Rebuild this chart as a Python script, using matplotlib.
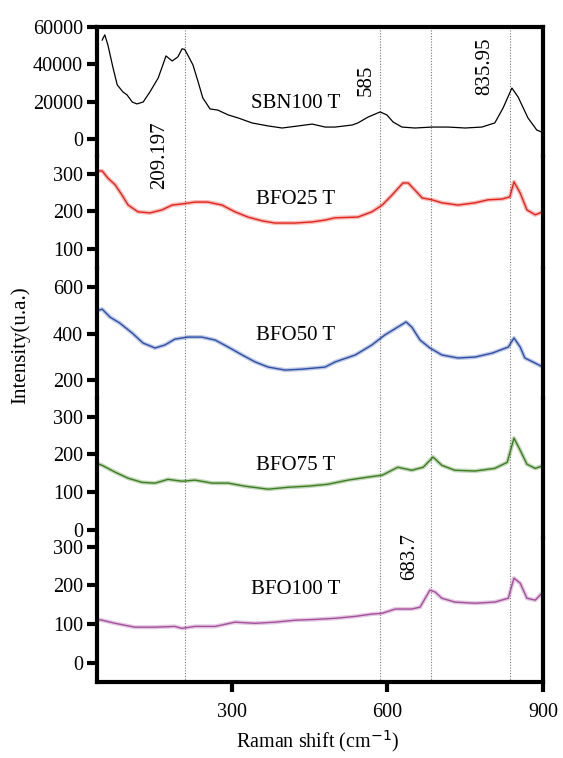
import numpy as np
import matplotlib
matplotlib.use("Agg")
import matplotlib.pyplot as plt

plt.rcParams['font.family'] = ['Liberation Serif', 'DejaVu Serif']

# ---------------------------------------------------------------
# Raman spectra (x in cm-1, y in u.a.)
# ---------------------------------------------------------------
sbn_x = [50, 55, 61, 71, 79, 90, 98, 108, 117, 129, 142, 158, 167, 173, 185, 196,
         204, 209, 215, 225, 235, 244, 258, 273, 293, 312, 339, 370, 397, 428, 455,
         480, 499, 532, 543, 563, 586, 599, 611, 628, 653, 686, 717, 750, 782, 807,
         823, 840, 852, 871, 888, 898]
sbn_y = [53000, 55800, 50400, 38000, 29000, 25200, 23600, 19800, 18800, 19800, 25200,
         32700, 39700, 44500, 41800, 44000, 48300, 48000, 45000, 39700, 30600, 22000,
         16100, 15500, 12900, 11300, 8600, 7000, 5900, 7000, 8000, 6400, 6400, 7500,
         8600, 11800, 14500, 12900, 9100, 6400, 5900, 6400, 6400, 5900, 6400, 8600,
         16600, 27300, 22500, 11300, 4800, 3700]

bfo25_x = [42, 50, 61, 75, 88, 100, 119, 142, 165, 185, 204, 229, 254, 281, 306, 331,
           358, 383, 422, 455, 480, 499, 543, 570, 590, 609, 630, 640, 653, 667, 686,
           705, 736, 769, 794, 821, 836, 844, 856, 869, 885, 900]
bfo25_y = [308, 308, 289, 271, 244, 217, 199, 196, 204, 217, 220, 225, 225, 217, 199,
           185, 175, 169, 169, 172, 177, 183, 185, 199, 217, 244, 276, 276, 257, 236,
           231, 223, 217, 223, 231, 233, 239, 279, 249, 204, 191, 199]

bfo50_x = [42, 50, 65, 84, 108, 129, 152, 171, 190, 215, 242, 268, 293, 320, 345, 370,
           403, 435, 460, 480, 499, 538, 570, 595, 620, 636, 647, 663, 682, 705, 736,
           769, 802, 833, 844, 856, 865, 885, 900]
bfo50_y = [500, 505, 471, 445, 402, 359, 338, 351, 376, 385, 385, 372, 342, 308, 278,
           256, 243, 247, 252, 256, 278, 308, 351, 394, 428, 450, 428, 372, 338, 308,
           295, 299, 316, 342, 381, 342, 295, 273, 256]

bfo75_x = [42, 50, 75, 100, 127, 152, 177, 204, 229, 262, 293, 325, 370, 408, 447, 485,
           524, 563, 590, 620, 647, 669, 688, 705, 730, 769, 807, 831, 844, 856, 869,
           885, 898]
bfo75_y = [175, 171, 153, 137, 126, 124, 134, 129, 132, 124, 124, 116, 108, 113, 116,
           121, 132, 140, 145, 166, 158, 166, 193, 171, 158, 156, 163, 179, 243, 211,
           174, 163, 169]

bfo100_x = [42, 50, 75, 113, 152, 190, 204, 229, 268, 306, 345, 383, 422, 460, 499,
            538, 570, 590, 615, 647, 663, 682, 692, 705, 730, 769, 807, 833, 844, 856,
            869, 885, 898]
bfo100_y = [112, 110, 102, 92, 92, 94, 89, 94, 94, 105, 102, 105, 110, 112, 115, 120,
            126, 128, 139, 139, 144, 188, 183, 167, 157, 154, 157, 167, 219, 206, 167,
            162, 180]

peaks = [209.197, 585, 683.7, 835.95]

# panel bounds in pixels (top, bottom) and y ranges
W, H = 563, 758
bounds = [(27, 156), (156, 268), (268, 398), (398, 538), (538, 682)]
ylims = [(-9100, 60000), (49, 348), (123, 682), (-21, 349), (-50, 323)]
yticks = [[0, 20000, 40000, 60000], [100, 200, 300], [200, 400, 600],
          [0, 100, 200, 300], [0, 100, 200, 300]]
xs = [sbn_x, bfo25_x, bfo50_x, bfo75_x, bfo100_x]
ys = [sbn_y, bfo25_y, bfo50_y, bfo75_y, bfo100_y]
colors = ['black', '#e3241c', '#2d4ea6', '#3b7d1f', '#a4509c']
names = ['SBN100 T', 'BFO25 T', 'BFO50 T', 'BFO75 T', 'BFO100 T']
name_y = [103, 199, 335, 466, 590]

fig = plt.figure(figsize=(W / 100, H / 100), dpi=100)

left = 97 / W
width = (543 - 97) / W
for i in range(5):
    t, b = bounds[i]
    ax = fig.add_axes([left, 1 - b / H, width, (b - t) / H])
    ax.set_xlim(40, 900)
    ax.set_ylim(*ylims[i])
    ax.patch.set_alpha(0)

    if i == 0:
        ax.plot(xs[i], ys[i], color=colors[i], lw=0.9)
    else:
        # soft band underneath to mimic the noisy trace
        ax.plot(xs[i], ys[i], color=colors[i], lw=3.0, alpha=0.3)
        ax.plot(xs[i], ys[i], color=colors[i], lw=1.0)

    for p in peaks:
        ax.axvline(p, color='#777777', lw=0.8, ls=(0, (1, 1.5)), zorder=0)

    ax.set_yticks(yticks[i])
    ax.tick_params(axis='y', direction='out', length=7, width=3, labelsize=14.5, pad=3)
    ax.spines['left'].set_linewidth(3)
    ax.spines['right'].set_linewidth(3)
    ax.spines['top'].set_visible(i == 0)
    ax.spines['bottom'].set_visible(i == 4)
    ax.spines['top'].set_linewidth(3)
    ax.spines['bottom'].set_linewidth(3)

    if i == 4:
        ax.set_xticks([300, 600, 900])
        ax.tick_params(axis='x', direction='out', length=7, width=3, labelsize=14.5, pad=8)
    else:
        ax.set_xticks([])

    fig.text(296 / W, 1 - name_y[i] / H, names[i], fontsize=15,
             ha='center', va='center')

# rotated peak labels
fig.text(160 / W, 1 - 155 / H, '209.197', rotation=90, fontsize=15, ha='center', va='center')
fig.text(366 / W, 1 - 80 / H, '585', rotation=90, fontsize=15, ha='center', va='center')
fig.text(485 / W, 1 - 66 / H, '835.95', rotation=90, fontsize=15, ha='center', va='center')
fig.text(410 / W, 1 - 556 / H, '683.7', rotation=90, fontsize=15, ha='center', va='center')

fig.text(20 / W, 1 - 345 / H, 'Intensity(u.a.)', rotation=90, fontsize=15,
         ha='center', va='center')
fig.text(318 / W, 1 - 741 / H, 'Raman shift (cm$^{-1}$)', fontsize=14.5,
         ha='center', va='center')

fig.savefig('out.png', dpi=100, facecolor='white')
